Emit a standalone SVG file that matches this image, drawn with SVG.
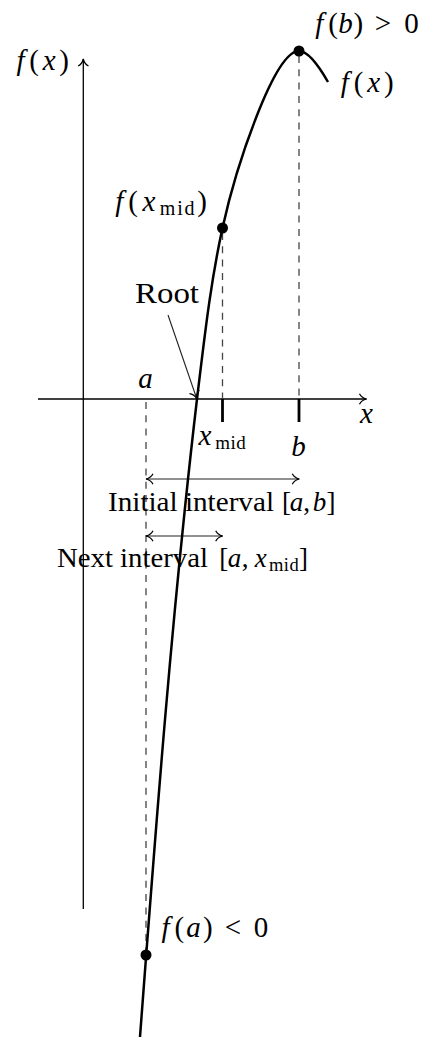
<svg xmlns="http://www.w3.org/2000/svg" width="424" height="1037" viewBox="0 0 424 1037">
<style>
.ax{stroke:#000;stroke-width:1.3;fill:none}
.dash{stroke:#444;stroke-width:1.3;fill:none;stroke-dasharray:7 6.3}
.thin{stroke:#222;stroke-width:1.1;fill:none}
.tick{stroke:#000;stroke-width:2.8}
.curve{stroke:#000;stroke-width:2.5;fill:none}
.dot{fill:#000}
text{font-family:"Liberation Serif","Times New Roman",serif;fill:#000}
.lab{font-size:29px;text-anchor:middle}
.it{font-style:italic}
.sub{font-size:20px}
.txt{font-size:27px}
</style>
<defs>
<marker id="ar" markerUnits="userSpaceOnUse" viewBox="-9 -7 11 14" refX="0" refY="0" markerWidth="11" markerHeight="14" orient="auto-start-reverse">
<path d="M-7,-5.2 C-5.5,-2.2 -2.5,-0.6 0,0 C-2.5,0.6 -5.5,2.2 -7,5.2" fill="none" stroke="#000" stroke-width="1.2"/>
</marker>
</defs>
<g id="axes">
<line class="ax" x1="38" y1="399" x2="366.5" y2="399" marker-end="url(#ar)"/>
<line class="ax" x1="83.3" y1="909" x2="83.3" y2="59" marker-end="url(#ar)"/>
<line class="tick" x1="222.5" y1="399" x2="222.5" y2="422"/>
<line class="tick" x1="299" y1="399" x2="299" y2="422"/>
</g>
<g id="connectors">
<line class="dash" x1="299" y1="56" x2="299" y2="399"/>
<line class="dash" x1="222.5" y1="233" x2="222.5" y2="399"/>
<line class="dash" x1="146" y1="402" x2="146" y2="955"/>
<line class="thin" x1="168" y1="315" x2="196.7" y2="398.5" marker-end="url(#ar)"/>
<line class="thin" x1="146" y1="479" x2="299.3" y2="479" marker-start="url(#ar)" marker-end="url(#ar)"/>
<line class="thin" x1="146" y1="536" x2="222.7" y2="536" marker-start="url(#ar)" marker-end="url(#ar)"/>
</g>
<g id="curve">
<path class="curve" d="M140,1037 C156,824 172,612 197,399 C204,342 210,285 222.5,228 C235.7,168 274,51 299,51 C309,51 320,68 328,82"/>
</g>
<g id="point-b"><circle class="dot" cx="299" cy="51" r="5.5"/></g>
<g id="point-xmid"><circle class="dot" cx="222.5" cy="228" r="5.5"/></g>
<g id="point-a"><circle class="dot" cx="146" cy="955" r="5.5"/></g>
<g id="label-fx-axis">
<text class="lab" y="70"><tspan class="it" x="20.6">f</tspan><tspan x="34.2">(</tspan><tspan class="it" x="49.2">x</tspan><tspan x="64">)</tspan></text>
</g>
<g id="label-fx-curve">
<text class="lab" y="92"><tspan class="it" x="344.7">f</tspan><tspan x="358.5">(</tspan><tspan class="it" x="373.7">x</tspan><tspan x="388.8">)</tspan></text>
</g>
<g id="label-fb">
<text class="lab" y="33"><tspan class="it" x="319.3">f</tspan><tspan x="333">(</tspan><tspan class="it" x="345.6">b</tspan><tspan x="358.4">)</tspan><tspan x="383">&gt;</tspan><tspan x="411.5">0</tspan></text>
</g>
<g id="label-fxmid">
<text class="lab" y="211"><tspan class="it" x="119.3">f</tspan><tspan x="133">(</tspan><tspan class="it" x="149">x</tspan><tspan x="202">)</tspan></text>
<text class="lab sub" y="215"><tspan x="167.5">m</tspan><tspan x="180">i</tspan><tspan x="189.5">d</tspan></text>
</g>
<g id="label-fa">
<text class="lab" y="937"><tspan class="it" x="165.6">f</tspan><tspan x="179.3">(</tspan><tspan class="it" x="193.5">a</tspan><tspan x="207.8">)</tspan><tspan x="233">&lt;</tspan><tspan x="261">0</tspan></text>
</g>
<g id="label-root">
<text x="135" y="303" font-size="29" textLength="64" lengthAdjust="spacingAndGlyphs">Root</text>
</g>
<g id="label-a"><text class="lab it" x="145.5" y="388">a</text></g>
<g id="label-x"><text class="lab it" x="366.5" y="423">x</text></g>
<g id="label-xmid">
<text class="lab it" x="205" y="445">x</text>
<text class="lab" y="449" style="font-size:19px"><tspan x="222.7">m</tspan><tspan x="233.1">i</tspan><tspan x="240.9">d</tspan></text>
</g>
<g id="label-b"><text class="lab it" x="298.5" y="456">b</text></g>
<g id="label-initial">
<text class="txt" x="108" y="511" textLength="166" lengthAdjust="spacingAndGlyphs">Initial interval</text>
<text class="txt" y="511" text-anchor="middle"><tspan x="286.5">[</tspan><tspan class="it" x="296.6">a</tspan><tspan x="306.7">,</tspan><tspan class="it" x="319.5">b</tspan><tspan x="331">]</tspan></text>
</g>
<g id="label-next">
<text class="txt" x="57" y="567" textLength="151" lengthAdjust="spacingAndGlyphs">Next interval</text>
<text class="txt" y="567" text-anchor="middle"><tspan x="223.7">[</tspan><tspan class="it" x="234.4">a</tspan><tspan x="245.1">,</tspan><tspan class="it" x="260.8">x</tspan><tspan x="303.5">]</tspan></text>
<text y="571" text-anchor="middle" style="font-size:18.5px"><tspan x="276.1">m</tspan><tspan x="286.4">i</tspan><tspan x="294.1">d</tspan></text>
</g>
</svg>
